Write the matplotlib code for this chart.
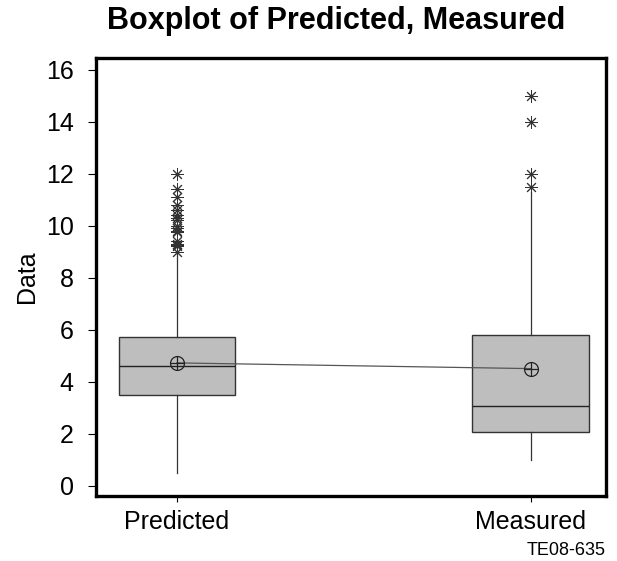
import numpy as np
from matplotlib import pyplot as plt

plt.rcParams['font.family'] = ['Liberation Sans', 'DejaVu Sans']

# data
groups = ['Predicted', 'Measured']
q1 = [3.5, 2.05]
median = [4.6, 3.05]
q3 = [5.7, 5.8]
whis_lo = [0.5, 1.0]
whis_hi = [8.9, 11.3]
means = [4.72, 4.5]
outliers_pred = [12.0, 11.4, 11.1, 10.8, 10.6, 10.4, 10.3, 10.2, 10.0,
                 9.9, 9.8, 9.75, 9.4, 9.3, 9.25, 9.2, 9.0]
outliers_meas = [15.0, 14.0, 12.0, 11.5]
fliers = [outliers_pred, outliers_meas]
yticks = [0, 2, 4, 6, 8, 10, 12, 14, 16]

positions = [1, 2]

stats = []
for i, name in enumerate(groups):
    stats.append(dict(label=name, q1=q1[i], med=median[i], q3=q3[i],
                      whislo=whis_lo[i], whishi=whis_hi[i],
                      mean=means[i], fliers=fliers[i]))

fig = plt.figure(figsize=(6.17, 5.61), dpi=100)
ax = fig.add_axes([0.1556, 0.1159, 0.8264, 0.7807])

ax.bxp(stats, positions=positions, widths=0.33, patch_artist=True,
       showcaps=False, showmeans=False,
       boxprops=dict(facecolor='#bebebe', edgecolor='#333333', linewidth=1.0),
       medianprops=dict(color='#222222', linewidth=1.0),
       whiskerprops=dict(color='#333333', linewidth=0.9),
       flierprops=dict(marker=(8, 2, 0), markersize=9, markeredgecolor='#333333',
                       markeredgewidth=0.7, linestyle='none'))

# mean connect line and circled-plus symbols
ax.plot(positions, means, color='#555555', linewidth=0.9, zorder=3)
ax.plot(positions, means, 'o', markersize=10, markerfacecolor='none',
        markeredgecolor='#222222', markeredgewidth=0.9, zorder=4)
ax.plot(positions, means, '+', markersize=10, markeredgecolor='#222222',
        markeredgewidth=0.9, zorder=4)

ax.set_xlim(0.771, 2.212)
ax.set_ylim(-0.4, 16.45)
ax.set_yticks(yticks)
ax.set_xticks(positions)
ax.set_xticklabels(groups)
ax.tick_params(axis='y', labelsize=18, length=6, width=0.8, direction='out', pad=10)
ax.tick_params(axis='x', labelsize=18, length=4, width=0.8, direction='out', pad=6)
for s in ax.spines.values():
    s.set_linewidth(2.4)
ax.set_ylabel('Data', fontsize=18, labelpad=5)

fig.text(0.545, 0.962, 'Boxplot of Predicted, Measured', ha='center',
         va='center', fontsize=22, fontweight='bold')
fig.text(0.982, 0.01, 'TE08-635', ha='right', fontsize=13)

fig.savefig('out.png', dpi=100)
